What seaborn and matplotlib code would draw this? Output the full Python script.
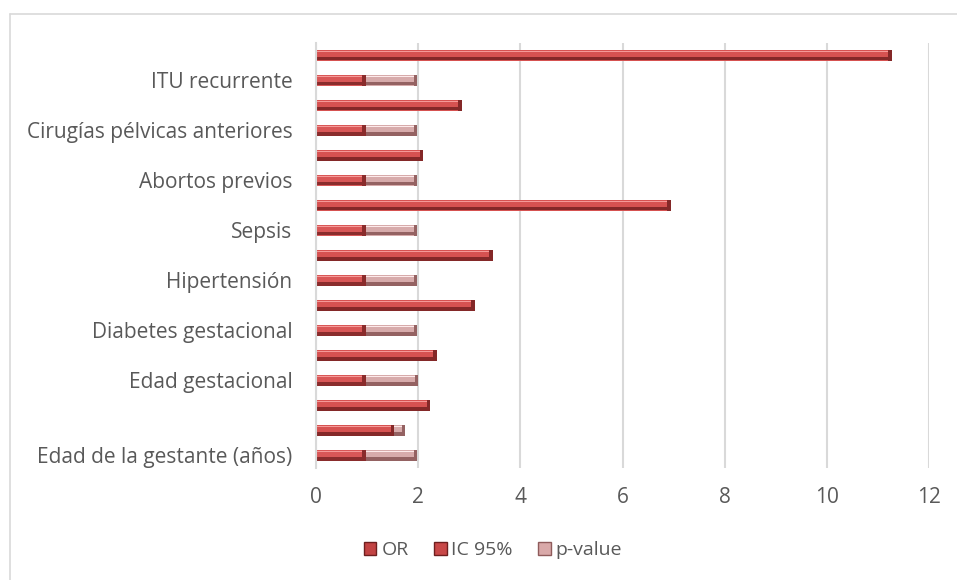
import matplotlib
matplotlib.use("Agg")
import matplotlib.pyplot as plt
from matplotlib.patches import Rectangle, Patch
from matplotlib.lines import Line2D
import seaborn as sns

# ---- data (top row first, as displayed) ----
row_labels = ["", "ITU recurrente", "", "Cirugías pélvicas anteriores", "", "Abortos previos",
              "", "Sepsis", "", "Hipertensión", "", "Diabetes gestacional", "",
              "Edad gestacional", "", "", "Edad de la gestante (años)"]
or_vals = [11.27, 0, 2.85, 0, 2.10, 0, 6.95, 0, 3.46, 0, 3.11, 0, 2.36, 0, 2.24, 1.53, 0]
ic_vals = [0, 0.98, 0, 0.98, 0, 0.98, 0, 0.98, 0, 0.98, 0, 0.98, 0, 0.98, 0, 0, 0.97]
p_vals = [0, 1.00, 0, 1.00, 0, 1.00, 0, 1.00, 0, 1.00, 0, 1.00, 0, 1.02, 0, 0.22, 1.01]
series_names = ["OR", "IC 95%", "p-value"]
x_ticks = [0, 2, 4, 6, 8, 10, 12]

sns.set_theme(style="white")
plt.rcParams['font.family'] = ['Open Sans', 'DejaVu Sans']

fig = plt.figure(figsize=(9.57, 5.8), dpi=100)
ax = fig.add_axes([316/957, 1-467.5/580, (929-316)/957, (467.5-42.5)/580])

ids = [f"r{i:02d}" for i in range(len(row_labels))]
tot_p = [a + b + c for a, b, c in zip(or_vals, ic_vals, p_vals)]
tot_ic = [a + b for a, b in zip(or_vals, ic_vals)]

RED = "#d95757"
RED_HI = "#f59a98"
RED_LO = "#8a2c2c"
PINK = "#d7abab"
PINK_HI = "#fdeaea"
PINK_LO = "#946262"

layers = [(tot_p, PINK, PINK_HI, PINK_LO),
          (tot_ic, RED, RED_HI, RED_LO),
          (or_vals, "#d65251", RED_HI, "#842828")]

for vals, face, hi, lo in layers:
    n_before = len(ax.patches)
    sns.barplot(x=vals, y=ids, orient="h", color=face, saturation=1, width=0.44,
                ax=ax, linewidth=0)
    new = ax.patches[n_before:]
    for p in new:
        w = p.get_width()
        if w <= 0:
            continue
        x0, y0 = p.get_x(), p.get_y()
        h = p.get_height()
        ytop = min(y0, y0 + h)
        hh = abs(h)
        ax.add_patch(Rectangle((x0, ytop + hh*0.66), w, hh*0.34, color=lo, lw=0, zorder=p.get_zorder()+0.01))
        ax.add_patch(Rectangle((x0, ytop + hh*0.10), w, hh*0.16, color=hi, lw=0, zorder=p.get_zorder()+0.01))
        cap = min(0.07, w*0.3)
        ax.add_patch(Rectangle((x0 + w - cap, ytop), cap, hh, color=lo, lw=0, zorder=p.get_zorder()+0.02))

ax.set_xlim(0, 12)
ax.set_ylim(len(ids) - 0.5, -0.5)
ax.set_xticks(x_ticks)
ax.set_xticklabels([str(t) for t in x_ticks])
ax.set_yticks(range(len(ids)))
ax.set_yticklabels(row_labels)
ax.set_xlabel("")
ax.set_ylabel("")
ax.tick_params(axis="both", length=0, colors="#595959", labelsize=15)
ax.tick_params(axis="y", pad=17)
ax.tick_params(axis="x", pad=14)
ax.grid(axis="x", color="#d9d9d9", linewidth=1.5)
ax.grid(axis="y", visible=False)
ax.set_axisbelow(True)
for s in ["top", "right", "bottom"]:
    ax.spines[s].set_visible(False)
ax.spines["left"].set_color("#d9d9d9")
ax.spines["left"].set_linewidth(1.5)

handles = [Patch(facecolor="#c24343", edgecolor="#6e1f1f", label=series_names[0]),
           Patch(facecolor="#c84848", edgecolor="#6e1f1f", label=series_names[1]),
           Patch(facecolor="#d9a9a9", edgecolor="#8f5b5b", label=series_names[2])]
fig.legend(handles=handles, loc="center", bbox_to_anchor=(493/957, 1-550/580), ncol=3,
           frameon=False, fontsize=14, handlelength=0.65, handleheight=0.65,
           handletextpad=0.25, columnspacing=1.3, labelcolor="#595959")

# chart frame (only top and left edges visible)
fig.add_artist(Line2D([10/957, 1.0], [1-14/580, 1-14/580], transform=fig.transFigure,
                      color="#d9d9d9", linewidth=1.2))
fig.add_artist(Line2D([10/957, 10/957], [0.0, 1-14/580], transform=fig.transFigure,
                      color="#d9d9d9", linewidth=1.2))

fig.savefig("out.png", dpi=100)
